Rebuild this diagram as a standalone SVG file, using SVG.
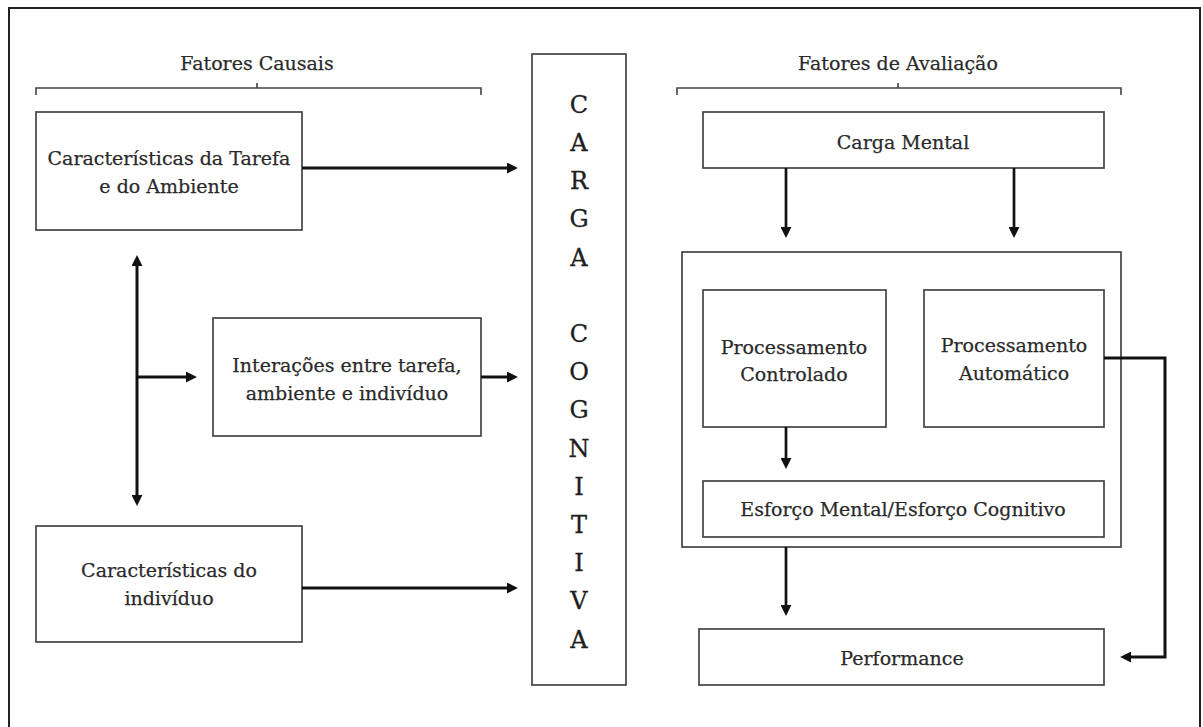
<svg xmlns="http://www.w3.org/2000/svg" width="1203" height="727" viewBox="0 0 1203 727">
  <defs>
    <marker id="head" viewBox="0 0 10 10" refX="1" refY="5" markerWidth="11" markerHeight="11" markerUnits="userSpaceOnUse" orient="auto-start-reverse">
      <path d="M0,0 L10,5 L0,10 z" fill="#111"/>
    </marker>
    <style>
      .box { fill: #fff; stroke: #444; stroke-width: 1.7; }
      .lbl { font-family: "DejaVu Serif", "Liberation Serif", serif; font-size: 19px; fill: #2a2a2a; stroke: #2a2a2a; stroke-width: 0.25; text-anchor: middle; }
      .big { font-family: "DejaVu Serif", "Liberation Serif", serif; font-size: 24px; fill: #1e1e1e; stroke: #1e1e1e; stroke-width: 0.3; text-anchor: middle; }
      .brace { fill: none; stroke: #444; stroke-width: 1.6; }
      .wire { fill: none; stroke: #111; stroke-width: 3; marker-end: url(#head); }
      .wire2 { fill: none; stroke: #111; stroke-width: 2.7; marker-end: url(#head); }
    </style>
  </defs>

  <rect width="1203" height="727" fill="#fff"/>
  <!-- outer frame -->
  <path d="M9,740 V8 H1200 V740" fill="none" stroke="#222" stroke-width="2"/>

  <!-- section headers with braces -->
  <g id="hdr-causais">
    <text class="lbl" x="257" y="70">Fatores Causais</text>
    <path class="brace" d="M36,95 V88 H481 V95 M257,88 V83"/>
  </g>
  <g id="hdr-avaliacao">
    <text class="lbl" x="898" y="70">Fatores de Avaliação</text>
    <path class="brace" d="M677,95 V88 H1121 V95 M898,88 V83"/>
  </g>

  <!-- left column -->
  <g id="tarefa-ambiente">
    <rect class="box" x="36" y="112" width="266" height="118"/>
    <text class="lbl" x="169" y="165">Características da Tarefa</text>
    <text class="lbl" x="169" y="193">e do Ambiente</text>
  </g>
  <g id="interacoes">
    <rect class="box" x="213" y="318" width="268" height="118"/>
    <text class="lbl" x="347" y="372">Interações entre tarefa,</text>
    <text class="lbl" x="347" y="400">ambiente e indivíduo</text>
  </g>
  <g id="individuo">
    <rect class="box" x="36" y="526" width="266" height="116"/>
    <text class="lbl" x="169" y="577">Características do</text>
    <text class="lbl" x="169" y="605">indivíduo</text>
  </g>

  <!-- central column -->
  <g id="carga-cognitiva">
    <rect class="box" x="532" y="54" width="94" height="631" stroke="#666"/>
    <text class="big" x="579" y="113">C</text>
    <text class="big" x="579" y="151">A</text>
    <text class="big" x="579" y="189">R</text>
    <text class="big" x="579" y="227">G</text>
    <text class="big" x="579" y="266">A</text>
    <text class="big" x="579" y="342">C</text>
    <text class="big" x="579" y="380">O</text>
    <text class="big" x="579" y="418">G</text>
    <text class="big" x="579" y="457">N</text>
    <text class="big" x="579" y="495">I</text>
    <text class="big" x="579" y="533">T</text>
    <text class="big" x="579" y="571">I</text>
    <text class="big" x="579" y="609">V</text>
    <text class="big" x="579" y="648">A</text>
  </g>

  <!-- right column -->
  <g id="carga-mental">
    <rect class="box" x="703" y="112" width="401" height="56"/>
    <text class="lbl" x="903" y="149">Carga Mental</text>
  </g>
  <g id="processamento">
    <rect class="box" x="682" y="252" width="439" height="295" stroke="#555"/>
  </g>
  <g id="proc-controlado">
    <rect class="box" x="703" y="290" width="183" height="137"/>
    <text class="lbl" x="794" y="354">Processamento</text>
    <text class="lbl" x="794" y="381">Controlado</text>
  </g>
  <g id="proc-automatico">
    <rect class="box" x="924" y="290" width="180" height="137"/>
    <text class="lbl" x="1014" y="352">Processamento</text>
    <text class="lbl" x="1014" y="380">Automático</text>
  </g>
  <g id="esforco">
    <rect class="box" x="703" y="481" width="401" height="56"/>
    <text class="lbl" x="903" y="516">Esforço Mental/Esforço Cognitivo</text>
  </g>
  <g id="performance">
    <rect class="box" x="699" y="629" width="405" height="56"/>
    <text class="lbl" x="902" y="665">Performance</text>
  </g>

  <!-- connectors -->
  <g id="connectors">
    <path class="wire" d="M302,168 H508"/>
    <path class="wire" d="M481,377 H508"/>
    <path class="wire" d="M302,588 H508"/>
    <path class="wire" d="M137,377 H187"/>
    <path class="wire" d="M137,265 V496" marker-start="url(#head)"/>
    <path class="wire2" d="M786,168 V228"/>
    <path class="wire2" d="M1014,168 V228"/>
    <path class="wire2" d="M786,427 V459"/>
    <path class="wire2" d="M786,547 V606"/>
    <path class="wire" d="M1104,358 H1165 V657 H1130"/>
  </g>
</svg>
